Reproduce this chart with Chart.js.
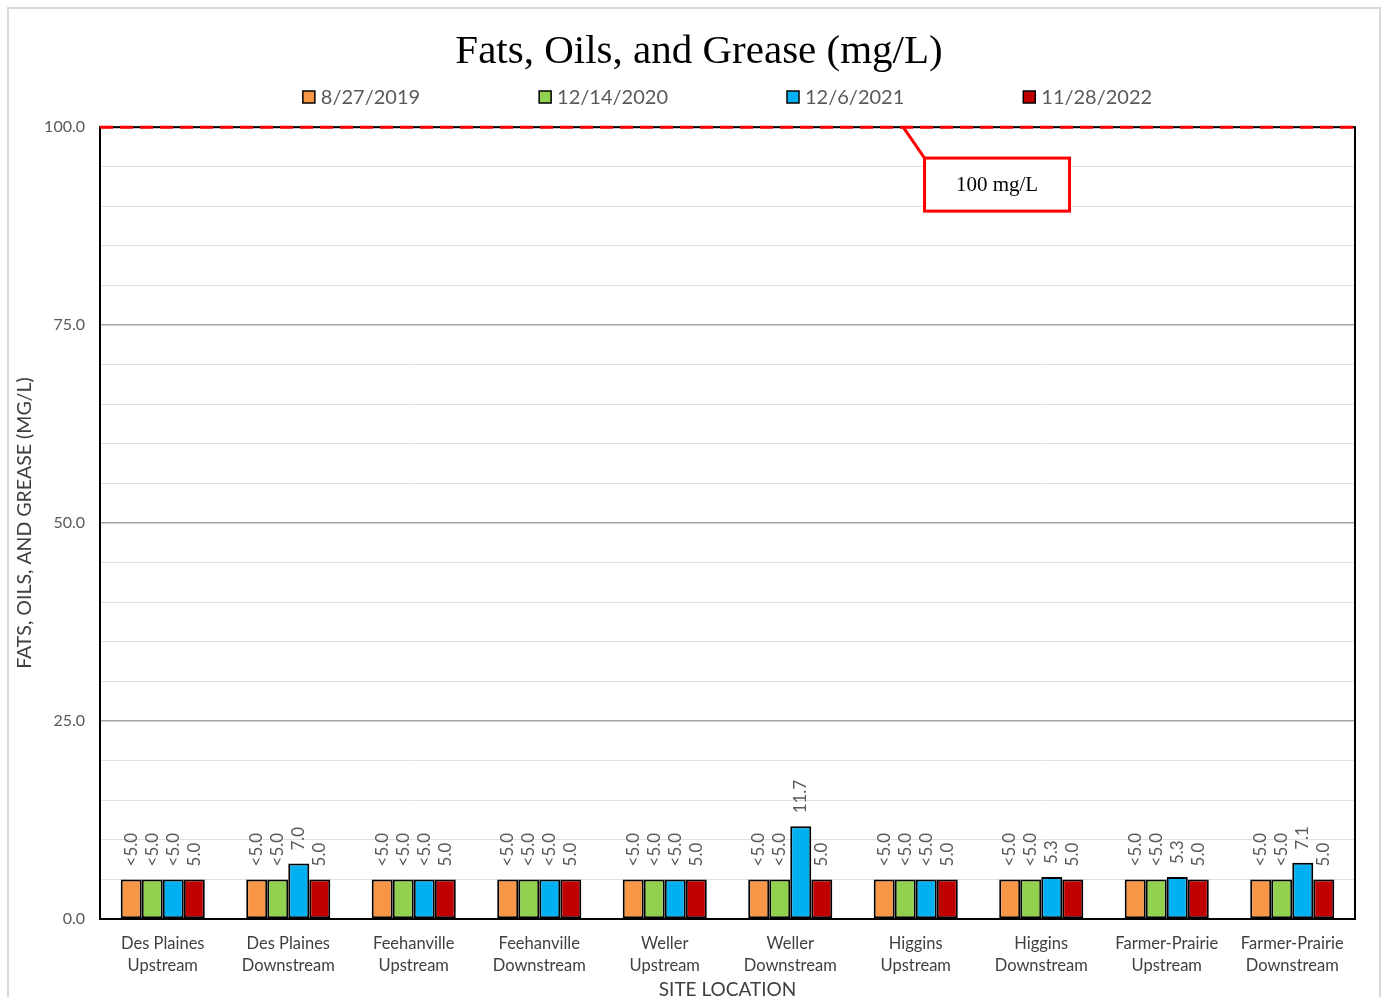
<!DOCTYPE html>
<html>
<head>
<meta charset="utf-8">
<script src="https://cdn.jsdelivr.net/npm/chart.js@4/dist/chart.umd.min.js"></script>
<style>
    html, body { margin: 0; padding: 0; background: #ffffff; }
    #wrap { width: 1385px; height: 997px; }
</style>
</head>
<body>
<div id="wrap"><canvas id="chart" width="1385" height="997"></canvas></div>
<script>
    // site names, two lines each
    var sites = [
        ['Des Plaines', 'Upstream'], ['Des Plaines', 'Downstream'],
        ['Feehanville', 'Upstream'], ['Feehanville', 'Downstream'],
        ['Weller', 'Upstream'], ['Weller', 'Downstream'],
        ['Higgins', 'Upstream'], ['Higgins', 'Downstream'],
        ['Farmer-Prairie', 'Upstream'], ['Farmer-Prairie', 'Downstream']
    ];

    var sampleDates = ['8/27/2019', '12/14/2020', '12/6/2021', '11/28/2022'];

    var fog2019 = [5.0, 5.0, 5.0, 5.0, 5.0, 5.0, 5.0, 5.0, 5.0, 5.0];
    var fog2020 = [5.0, 5.0, 5.0, 5.0, 5.0, 5.0, 5.0, 5.0, 5.0, 5.0];
    var fog2021 = [5.0, 7.0, 5.0, 5.0, 5.0, 11.7, 5.0, 5.3, 5.3, 7.1];
    var fog2022 = [5.0, 5.0, 5.0, 5.0, 5.0, 5.0, 5.0, 5.0, 5.0, 5.0];

    // 1 = below detection limit (shown as "<")
    var nd2019 = [1, 1, 1, 1, 1, 1, 1, 1, 1, 1];
    var nd2020 = [1, 1, 1, 1, 1, 1, 1, 1, 1, 1];
    var nd2021 = [1, 0, 1, 1, 1, 0, 1, 0, 0, 0];
    var nd2022 = [0, 0, 0, 0, 0, 0, 0, 0, 0, 0];

    var majorTicks = [0, 25, 50, 75, 100];
    var limitValue = 100;
    var limitLabel = '100 mg/L';

    var colors = ['#f79646', '#92d050', '#00b0f0', '#c00000'];

    var series = [fog2019, fog2020, fog2021, fog2022];
    var flags = [nd2019, nd2020, nd2021, nd2022];

    var dataSet = [];
    series.forEach(function (values, index) {
        dataSet.push({
            label: sampleDates[index],
            data: values,
            valueLabels: values.map(function (v, i) {
                return (flags[index][i] ? '<' : '') + v.toFixed(1);
            }),
            backgroundColor: colors[index],
            borderColor: '#000000',
            borderWidth: 2,
            borderSkipped: false,
            categoryPercentage: 0.67,
            barPercentage: 1.0
        });
    });

    var sansFont = 'Lato, "Open Sans", sans-serif';

    // outer frame and white background
    var framePlugin = {
        id: 'frame',
        beforeDraw: function (chart) {
            var ctx = chart.ctx;
            ctx.save();
            ctx.fillStyle = '#ffffff';
            ctx.fillRect(0, 0, chart.width, chart.height);
            ctx.strokeStyle = '#d9d9d9';
            ctx.lineWidth = 2;
            ctx.strokeRect(8, 8, chart.width - 13, chart.height + 10);
            ctx.restore();
        },
        beforeDatasetsDraw: function (chart) {
            var a = chart.chartArea;
            var ctx = chart.ctx;
            ctx.save();
            ctx.strokeStyle = '#000000';
            ctx.lineWidth = 2;
            ctx.strokeRect(a.left, a.top, a.right - a.left, a.bottom - a.top);
            ctx.restore();
        }
    };

    // legend drawn in a row, wide gaps like the original
    var legendPlugin = {
        id: 'wideLegend',
        afterDraw: function (chart) {
            var ctx = chart.ctx;
            var a = chart.chartArea;
            var box = 12, textGap = 6, itemGap = 119;
            ctx.save();
            ctx.font = '20px ' + sansFont;
            var widths = chart.data.datasets.map(function (ds) {
                return ctx.measureText(ds.label).width;
            });
            var total = 0;
            widths.forEach(function (w, i) {
                total += box + textGap + w + (i < widths.length - 1 ? itemGap : 0);
            });
            var x = (a.left + a.right) / 2 - total / 2;
            var y = 97;
            chart.data.datasets.forEach(function (ds, i) {
                ctx.fillStyle = ds.backgroundColor;
                ctx.fillRect(x, y - box / 2, box, box);
                ctx.strokeStyle = '#000000';
                ctx.lineWidth = 1.5;
                ctx.strokeRect(x, y - box / 2, box, box);
                ctx.fillStyle = '#595959';
                ctx.textBaseline = 'middle';
                ctx.textAlign = 'left';
                ctx.fillText(ds.label, x + box + textGap, y + 1);
                x += box + textGap + widths[i] + itemGap;
            });
            ctx.restore();
        }
    };

    // rotated value labels above each bar
    var valueLabelPlugin = {
        id: 'valueLabels',
        afterDatasetsDraw: function (chart) {
            var ctx = chart.ctx;
            ctx.save();
            ctx.font = '17px ' + sansFont;
            ctx.fillStyle = '#595959';
            ctx.textAlign = 'left';
            ctx.textBaseline = 'middle';
            chart.data.datasets.forEach(function (ds, di) {
                var meta = chart.getDatasetMeta(di);
                meta.data.forEach(function (bar, i) {
                    ctx.save();
                    ctx.translate(bar.x, bar.y - 13);
                    ctx.rotate(-Math.PI / 2);
                    ctx.fillText(ds.valueLabels[i], 0, 0);
                    ctx.restore();
                });
            });
            ctx.restore();
        }
    };

    // red dashed limit line and its callout
    var limitPlugin = {
        id: 'limitLine',
        afterDatasetsDraw: function (chart) {
            var ctx = chart.ctx;
            var a = chart.chartArea;
            var y = chart.scales.y.getPixelForValue(limitValue);
            ctx.save();
            ctx.strokeStyle = '#ff0000';
            ctx.lineWidth = 3;
            ctx.setLineDash([13, 7]);
            ctx.beginPath();
            ctx.moveTo(a.left, y);
            ctx.lineTo(a.right, y);
            ctx.stroke();
            ctx.setLineDash([]);

            var w = a.right - a.left;
            var anchorX = a.left + w * 0.64;
            var boxLeft = a.left + w * 0.657;
            var boxTop = chart.scales.y.getPixelForValue(96.1);
            var boxBottom = chart.scales.y.getPixelForValue(89.4);
            var boxW = 145;

            ctx.lineWidth = 3;
            ctx.beginPath();
            ctx.moveTo(anchorX, y);
            ctx.lineTo(boxLeft, boxTop);
            ctx.stroke();

            ctx.fillStyle = '#ffffff';
            ctx.fillRect(boxLeft, boxTop, boxW, boxBottom - boxTop);
            ctx.strokeRect(boxLeft, boxTop, boxW, boxBottom - boxTop);

            ctx.fillStyle = '#000000';
            ctx.font = '21px "Liberation Serif", serif';
            ctx.textAlign = 'center';
            ctx.textBaseline = 'middle';
            ctx.fillText(limitLabel, boxLeft + boxW / 2, (boxTop + boxBottom) / 2 + 1);
            ctx.restore();
        }
    };

    new Chart(document.getElementById('chart'), {
        type: 'bar',
        data: {
            labels: sites,
            datasets: dataSet
        },
        options: {
            responsive: false,
            animation: false,
            layout: {
                padding: { left: 13, right: 0, top: 0, bottom: 0 }
            },
            plugins: {
                legend: { display: false },
                tooltip: { enabled: false },
                title: {
                    display: true,
                    text: 'Fats, Oils, and Grease (mg/L)',
                    color: '#000000',
                    font: { family: '"Liberation Serif", serif', size: 41, weight: 'normal', lineHeight: 1.2 },
                    padding: { top: 28, bottom: 50 }
                }
            },
            scales: {
                x: {
                    grid: { display: false, drawTicks: false },
                    border: { display: true, color: '#000000', width: 2 },
                    ticks: {
                        color: '#404040',
                        font: { family: sansFont, size: 16.5, lineHeight: 1.3 },
                        padding: 14,
                        maxRotation: 0,
                        autoSkip: false
                    },
                    title: {
                        display: true,
                        text: 'SITE LOCATION',
                        color: '#404040',
                        font: { family: sansFont, size: 19, lineHeight: 0.8 },
                        padding: 0
                    },
                    afterFit: function (scale) { scale.height = 78; }
                },
                y: {
                    min: 0,
                    max: 100,
                    grid: {
                        drawTicks: false,
                        color: function (c) {
                            return majorTicks.indexOf(c.tick.value) >= 0 ? '#a6a6a6' : '#e0e0e0';
                        },
                        lineWidth: function (c) {
                            return majorTicks.indexOf(c.tick.value) >= 0 ? 1.5 : 1;
                        }
                    },
                    border: { display: true, color: '#000000', width: 2 },
                    ticks: {
                        stepSize: 5,
                        autoSkip: false,
                        color: '#595959',
                        font: { family: sansFont, size: 16 },
                        padding: 15,
                        callback: function (v) {
                            return majorTicks.indexOf(v) >= 0 ? v.toFixed(1) : '';
                        }
                    },
                    title: {
                        display: true,
                        text: 'FATS, OILS, AND GREASE (MG/L)',
                        color: '#404040',
                        font: { family: sansFont, size: 19.5, lineHeight: 1.2 },
                        padding: 0
                    },
                    afterFit: function (scale) { scale.width = 87; }
                },
                yRight: {
                    position: 'right',
                    display: true,
                    grid: { display: false, drawTicks: false },
                    border: { display: false },
                    ticks: { display: false },
                    afterFit: function (scale) { scale.width = 30; }
                }
            }
        },
        plugins: [framePlugin, valueLabelPlugin, limitPlugin, legendPlugin]
    });
</script>
</body>
</html>
